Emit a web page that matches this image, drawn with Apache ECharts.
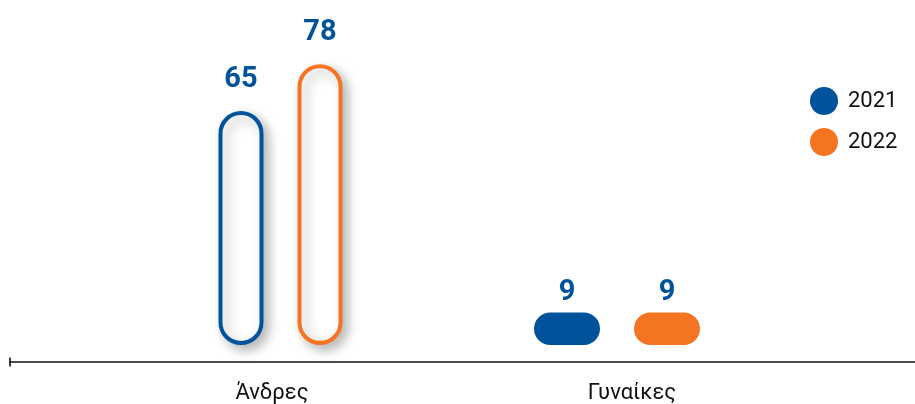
<!DOCTYPE html>
<html>
<head>
<meta charset="utf-8">
<script src="https://cdn.jsdelivr.net/npm/echarts@6/dist/echarts.min.js"></script>
<style>
  html, body { margin: 0; padding: 0; background: #fff; }
  #chart { width: 915px; height: 404px; }
</style>
</head>
<body>
<div id="chart"></div>
<script>
const categories = ['Άνδρες', 'Γυναίκες'];
const years = ['2021', '2022'];
const values2021 = [65, 9];
const values2022 = [78, 9];
const colors = ['#00529b', '#f47421'];

// drawing style per category: tall ones are outlined, short ones are filled pills
const barWidth = [45, 66];
const pairGap = 34;
const pairShift = [8.5, -15];

const chart = echarts.init(document.getElementById('chart'));

function renderBar(seriesIndex) {
    return function (params, api) {
        const cat = api.value(0);
        const val = api.value(1);
        const base = api.coord([cat, 0]);
        const top = api.coord([cat, val]);
        const w = barWidth[cat];
        const off = (seriesIndex === 0 ? -1 : 1) * (w + pairGap) / 2 + pairShift[cat];
        const cx = base[0] + off;
        const color = colors[seriesIndex];
        const h = base[1] - top[1];
        const outlined = cat === 0;
        let shape, labelY;
        if (outlined) {
            shape = {
                type: 'rect',
                shape: {x: cx - w / 2 + 2, y: top[1] + 2, width: w - 4, height: h - 4, r: (w - 4) / 2},
                style: {
                    fill: '#fff', stroke: color, lineWidth: 4,
                    shadowBlur: 12, shadowColor: 'rgba(0,0,0,0.28)', shadowOffsetX: 5, shadowOffsetY: 5
                }
            };
            labelY = top[1] - 31;
        } else {
            shape = {
                type: 'rect',
                shape: {x: cx - w / 2, y: top[1], width: w, height: h, r: h / 2},
                style: {fill: color}
            };
            labelY = top[1] - 20;
        }
        return {
            type: 'group',
            children: [
                shape,
                {
                    type: 'text',
                    style: {
                        text: String(val), x: cx, y: labelY,
                        align: 'center', verticalAlign: 'middle',
                        font: 'bold 29px Roboto', fill: colors[0]
                    }
                }
            ]
        };
    };
}

const option = {
    animation: false,
    legend: {
        orient: 'vertical',
        left: 805,
        top: 82,
        itemWidth: 28,
        itemHeight: 28,
        itemGap: 13,
        icon: 'circle',
        textStyle: {fontSize: 22, color: '#111', fontFamily: 'Roboto', padding: [0, 0, 0, 5]},
        data: years
    },
    grid: [
        {left: 92, right: 103, top: 57, bottom: 57},
        {left: 10, right: 0, top: 300, bottom: 42}
    ],
    xAxis: [
        {
            type: 'category',
            gridIndex: 0,
            data: categories,
            axisLine: {show: false},
            axisTick: {show: false},
            axisLabel: {fontSize: 22, color: '#111', fontFamily: 'Roboto', margin: 37}
        },
        {
            type: 'value',
            gridIndex: 1,
            min: 0,
            max: 1,
            axisLine: {
                show: true,
                lineStyle: {color: '#111', width: 1.6},
                symbol: ['rect', 'none'],
                symbolSize: [9, 1.6]
            },
            axisTick: {show: false},
            axisLabel: {show: false},
            splitLine: {show: false}
        }
    ],
    yAxis: [
        {type: 'value', gridIndex: 0, min: 0, max: 80, show: false},
        {type: 'value', gridIndex: 1, min: 0, max: 1, show: false}
    ],
    series: [
        {
            name: years[0],
            type: 'custom',
            itemStyle: {color: colors[0]},
            renderItem: renderBar(0),
            data: values2021.map((v, i) => [i, v])
        },
        {
            name: years[1],
            type: 'custom',
            itemStyle: {color: colors[1]},
            renderItem: renderBar(1),
            data: values2022.map((v, i) => [i, v])
        }
    ]
};

chart.setOption(option);
</script>
</body>
</html>
